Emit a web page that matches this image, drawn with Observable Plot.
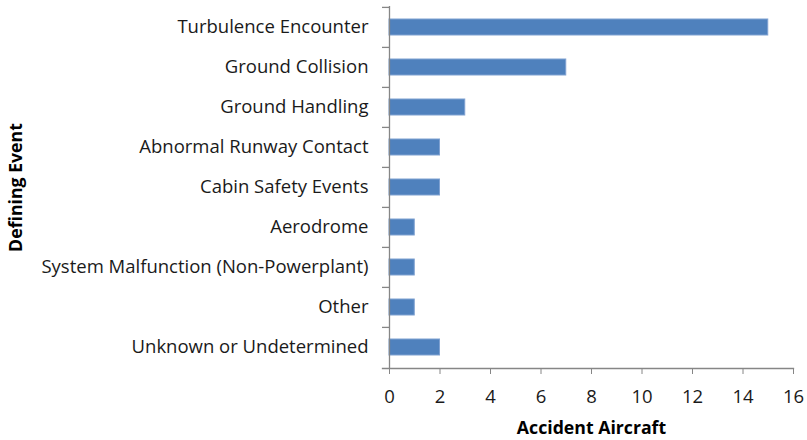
<!DOCTYPE html>
<html>
<head>
<meta charset="utf-8">
<script src="https://cdn.jsdelivr.net/npm/d3@7"></script>
<script src="https://cdn.jsdelivr.net/npm/@observablehq/plot@0.6"></script>
<style>
  html, body { margin: 0; padding: 0; background: #fff; }
  #chart svg { display: block; }
</style>
</head>
<body>
<div id="chart"></div>
<script>
const categories = [
  "Turbulence Encounter",
  "Ground Collision",
  "Ground Handling",
  "Abnormal Runway Contact",
  "Cabin Safety Events",
  "Aerodrome",
  "System Malfunction (Non-Powerplant)",
  "Other",
  "Unknown or Undetermined"
];
const values = [15, 7, 3, 2, 2, 1, 1, 1, 2];
const xTicks = [0, 2, 4, 6, 8, 10, 12, 14, 16];
const xTitle = "Accident Aircraft";
const yTitle = "Defining Event";

const data = categories.map((c, i) => ({category: c, value: values[i]}));
const axisColor = "#868686";
const font = "'Open Sans', Lato, sans-serif";

const chart = Plot.plot({
  width: 807,
  height: 440,
  marginLeft: 389,
  marginRight: 14,
  marginTop: 6,
  marginBottom: 72,
  style: {fontFamily: font, fontSize: "18.5px", color: "#1a1a1a", background: "#fff"},
  x: {domain: [0, 16]},
  y: {domain: categories, padding: 0},
  marks: [
    Plot.barX(data, {x: "value", y: "category", fill: "#4f81bd", stroke: "#7fa1d1", strokeWidth: 1, insetTop: 12, insetBottom: 12}),
    Plot.ruleX([0], {stroke: axisColor, strokeWidth: 1.3}),
    Plot.frame({anchor: "bottom", stroke: axisColor, strokeWidth: 1.3, insetLeft: -7}),
    Plot.ruleY(categories, {y: d => d, x1: 0, x2: 0, insetLeft: -7, dy: -20.1, stroke: axisColor, strokeWidth: 1.3}),
    Plot.axisY({tickSize: 0, tickPadding: 21, fontSize: 18.5, label: null}),
    Plot.axisX({ticks: xTicks, tickSize: 6, tickPadding: 15, stroke: axisColor, strokeOpacity: 1, fontSize: 18.5, label: null}),
    Plot.text([xTitle], {frameAnchor: "bottom", dy: 65, fontWeight: "bold", fontSize: 17.7, fill: "#000"}),
    Plot.text([yTitle], {frameAnchor: "left", textAnchor: "middle", dx: -373, rotate: -90, fontWeight: "bold", fontSize: 17.7, fill: "#000"})
  ]
});
document.getElementById("chart").append(chart);
</script>
</body>
</html>
